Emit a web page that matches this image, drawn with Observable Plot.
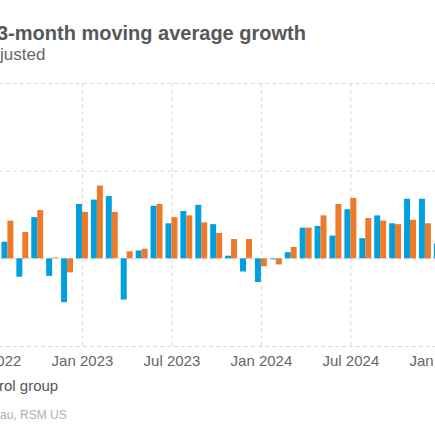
<!DOCTYPE html>
<html><head><meta charset="utf-8">
<script src="https://cdn.jsdelivr.net/npm/d3@7"></script>
<script src="https://cdn.jsdelivr.net/npm/@observablehq/plot@0.6"></script>
<style>
html,body{margin:0;padding:0;background:#fff;overflow:hidden;width:435px;height:435px;}
#wrap{position:relative;width:435px;height:435px;overflow:hidden;font-family:"Liberation Sans",Arial,sans-serif;}
.t{position:absolute;white-space:nowrap;}
#title{left:-3px;top:23px;font-size:20px;line-height:20px;font-weight:bold;color:#57585a;}
#subtitle{left:0px;top:46px;font-size:17px;line-height:17px;color:#666;}
#chart{position:absolute;left:-40px;top:70px;width:503px;height:306px;}
#chart svg{max-width:none !important;width:503px;height:306px;overflow:hidden;}
#legend{left:-1px;top:378px;font-size:15px;line-height:15px;color:#555;}
#source{left:0px;top:409px;font-size:12px;line-height:12px;color:#b0b0b0;}
</style></head><body>
<div id="wrap">
<div class="t" id="title">3-month moving average growth</div>
<div class="t" id="subtitle">justed</div>
<div id="chart"></div>
<div class="t" id="legend">rol group</div>
<div class="t" id="source">au, RSM US</div>
</div>
<script>
const months = ["2022-08","2022-09","2022-10","2022-11","2022-12",
  "2023-01","2023-02","2023-03","2023-04","2023-05","2023-06","2023-07","2023-08","2023-09","2023-10","2023-11","2023-12",
  "2024-01","2024-02","2024-03","2024-04","2024-05","2024-06","2024-07","2024-08","2024-09","2024-10","2024-11","2024-12",
  "2025-01"];
const headline = [0.19,-0.21,0.47,-0.20,-0.50,
  0.62,0.67,0.71,-0.47,0.09,0.60,0.40,0.54,0.61,0.39,0.03,-0.15,
  -0.27,-0.01,0.07,0.35,0.37,0.26,0.56,0.23,0.49,0.40,0.68,0.68,
  0.17];
const control = [0.43,0.30,0.55,0.01,-0.16,
  0.53,0.83,0.53,0.08,0.11,0.62,0.47,0.49,0.41,0.29,0.22,0.22,
  -0.09,-0.07,0.13,0.35,0.49,0.62,0.69,0.46,0.43,0.39,0.44,0.40,
  null];
const monthDomain = ["2022-07", ...months, "2025-02"];
const xTicks = ["2022-07","2023-01","2023-07","2024-01","2024-07","2025-01"];
const yTicks = [-1, 0, 1, 2];
const monthNames = {"01":"Jan","07":"Jul"};

const rows = months.map((m, i) => ({month: m, headline: headline[i], control: control[i]}));
const blue = "#00a0df", orange = "#ec7a28", gridColor = "#d9d9d9";

const chart = Plot.plot({
  width: 503, height: 306,
  marginLeft: 25.04, marginRight: 0.8, marginTop: 13, marginBottom: 30,
  style: {fontFamily: '"Liberation Sans", Arial, sans-serif', fontSize: "15px", color: "#666", background: "transparent"},
  x: {type: "band", domain: monthDomain, paddingInner: 0.2, paddingOuter: 0.1, align: 0.5, round: false},
  y: {domain: [-1, 2], axis: null},
  marks: [
    Plot.gridY({ticks: yTicks, stroke: gridColor, strokeOpacity: 1, strokeDasharray: "4,3"}),
    Plot.gridX({ticks: xTicks, stroke: gridColor, strokeOpacity: 1, strokeDasharray: "4,3"}),
    Plot.barY(rows, {x: "month", y: "headline", fill: blue, insetRight: 5.96}),
    Plot.barY(rows, {x: "month", y: "control", fill: orange, insetLeft: 5.96}),
    Plot.axisX({ticks: xTicks, tickFormat: d => monthNames[d.slice(5)] + " " + d.slice(0, 4), tickSize: 0, tickPadding: 9, label: null, fill: "#666", fontSize: 15})
  ]
});
chart.style.maxWidth = "none";
document.getElementById("chart").appendChild(chart);
</script>
</body></html>
